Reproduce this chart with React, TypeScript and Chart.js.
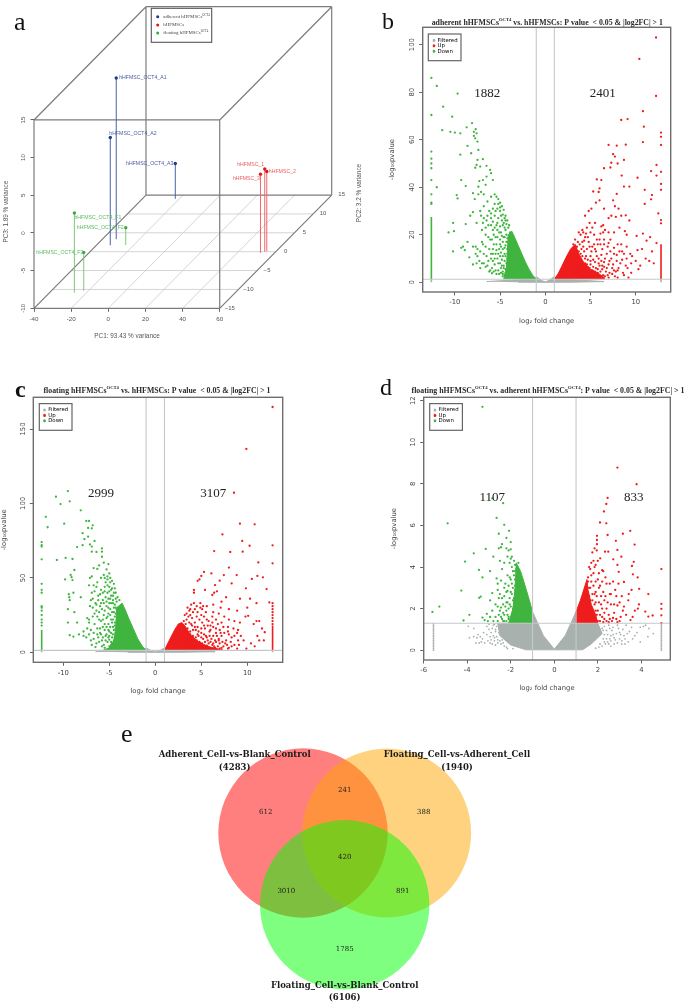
import React, { useEffect, useRef } from 'react';
import { Chart, registerables } from 'chart.js';

Chart.register(...registerables);

type P = number[];
type Run = { t: string; sup?: boolean };

/* ---------- panel a values ---------- */
const pcaNames = ['adherent hHFMSCs', 'hHFMSCs', 'floating hHFMSCs'];
const adherentPC = [[-32.5, 3.3, 11.4], [-32.5, 1.7, 4.3], [-22.2, 14, -5.3]];
const controlPC = [[54.2, -0.05, 1], [55, 0.1, 0.6], [52.4, -0.3, 0.44]];
const floatingPC = [[-26.6, -10.85, 0.57], [-24.3, 1.77, -7.7], [-22.6, -10.33, -4.93]];
const pc1Ticks = [-40, -20, 0, 20, 40, 60];
const pc2Ticks = [-15, -10, -5, 0, 5, 10, 15];
const pc3Ticks = [-10, -5, 0, 5, 10, 15];

/* ---------- panel b values ---------- */
const bDown: P[] = [[-12.6,86],[-12,82.6],[-9.7,79.4],[-11.3,73.9],[-12.6,70.4],[-10.3,69.7],[-11.4,64],[-10.5,63.3],[-10,63],[-9.4,62.7],[-8.7,65.2],[-8.1,67],[-7.7,64.4],[-7.9,63.3],[-7.6,62.7],[-7.9,61.6],[-7.75,60.6],[-7.5,59.2],[-8.6,57.4],[-9.4,53.7],[-8.2,54.3],[-7.4,55.7],[-6.9,51.8],[-7.5,51.5],[-7.6,49.4],[-7.75,48.2],[-7.2,48.7],[-6.5,49],[-6.1,47.3],[-12,40],[-9.3,43],[-8.8,40.5],[-7.3,42.6],[-6.5,44.5],[-6,45.9],[-5.8,43],[-7.4,40.2],[-9.8,36.7],[-9.7,35.3],[-12.6,55],[-12.6,52],[-12.6,50],[-12.6,48],[-12.6,43],[-12.6,37],[-12.6,33.5],[-12.6,33],[-8,37.5],[-7.8,35],[-6.8,37],[-6.4,34],[-6,36],[-5.6,37],[-5.4,36],[-5.2,35],[-5,33.5],[-4.8,32],[-4.6,30.5],[-4.4,28],[-4.2,26],[-4,24],[-5,30],[-5.3,31],[-5.6,33],[-6.2,30],[-6.8,32],[-7.2,30],[-8,29.5],[-8.3,28],[-7.6,25],[-8.8,24.5],[-10.2,25],[-10.7,21],[-10.1,21.5],[-9.1,15],[-9.3,14.5],[-10.2,13],[-8.6,17],[-8.4,10.5],[-8.9,13.5],[-7.7,15],[-7.5,14],[-7,17],[-6.6,20],[-6.3,24],[-6,27],[-5.6,28],[-5.2,27],[-4.8,26],[-5.4,24],[-5.8,22],[-6.1,18],[-5.7,16],[-5.3,19],[-4.9,21],[-4.5,23],[-4.3,20],[-4.7,17],[-5.1,14],[-5.5,12],[-6,10],[-6.5,11],[-7,8],[-6.4,7],[-5.9,6],[-5.5,5],[-5.1,3.5],[-4.7,2.5],[-4.4,4],[-4.6,7],[-4.2,10],[-4,14],[-3.8,17],[-4.8,9.5],[-5.2,8],[-5.8,9],[-6.2,14],[-6.8,12],[-7.5,11],[-7.2,6],[-4.2,6.5],[-3.9,5],[-4.5,12],[-4.1,17],[-3.9,21],[-3.8,10],[-4.4,15.5],[-5,18],[-6.4,28],[-6.8,27],[-7,22],[-5,11],[-5.4,16],[-4.7,4.5],[-5.6,7.5],[-4.1,23],[-4.3,24.5],[-4.6,25],[-4.9,28],[-4.5,19],[-4.2,14],[-4.9,6],[-5.3,10],[-6.6,15],[-6.2,4.5],[-5.8,12],[-5.2,5]];
const bDownMore: P[] = [[-3.6,2],[-3.9,3],[-4.1,2.5],[-4.3,2],[-4.5,3],[-4.7,3.5],[-4.9,4],[-4.2,4.5],[-4.4,5.5],[-4.6,6],[-4.8,7],[-5,8],[-4.3,8],[-4.5,9],[-4.7,11],[-4.9,12.5],[-4.4,11],[-4.2,12],[-4.1,9],[-4,8],[-3.9,12],[-3.8,14],[-4.1,15],[-4.3,17],[-4.5,14.5],[-4.7,14],[-4.9,15],[-5,16],[-4.6,19],[-4.4,22],[-4.2,18.5],[-4,19],[-3.9,16],[-4.8,19.5],[-5.1,21],[-5.3,22],[-5.5,19],[-5.7,20],[-5.9,18],[-5.2,12],[-5.4,13.5],[-5.6,10],[-5.8,14],[-6,12],[-6.3,9],[-6.6,6.5],[-6.1,5],[-5.4,3.5],[-5.7,4.5],[-5.9,3.8],[-6.8,8],[-7.3,9],[-7.6,8],[-8,7.5],[-7.7,12],[-8,15],[-7.2,13],[-6.9,16],[-6.6,23],[-6.9,25],[-7.1,28],[-6.3,19],[-6.5,26],[-6,24],[-5.8,25.5],[-5.6,23],[-5.3,25],[-5,23.5],[-4.7,24],[-4.4,26],[-5.5,30],[-5.8,31],[-6,29],[-5.2,33],[-5,31.5],[-4.7,28.5],[-4.5,27],[-7.4,37],[-6.6,41],[-6.9,43],[-7.1,38]];
const bUp: P[] = [[12.25,103],[10.4,94],[12.25,78.4],[10.8,72],[8.4,68.3],[9.1,68.7],[10.9,65.5],[12.8,63],[12.8,61.2],[12.8,57.8],[10.8,59],[7,57.8],[7.9,57.5],[8.9,57.9],[7.5,53.9],[7.7,52.9],[8.7,51.5],[8,50],[7.3,50.3],[12.3,49.4],[6.5,48],[7.2,48.3],[11.7,46.8],[12.8,46.5],[12.3,44.9],[8.45,44.9],[10.2,44],[5.7,43.3],[6.2,43],[12.8,41.4],[8.7,40.3],[9.3,40.3],[11,38.9],[12.8,38.9],[6,39.5],[5.9,38],[5.3,38.2],[11.8,36.7],[7.9,37.2],[11.7,34.9],[11,33],[12.5,29],[12.8,26.2],[12.8,24.8],[7.5,34.5],[6,34.5],[5.6,33.5],[5.1,31],[4.8,30],[4.4,28],[6.5,31],[7.7,32],[8.1,31],[8.4,28],[8.9,28.2],[7.8,27.5],[9.3,26],[7.3,28],[7,27],[6.4,24],[6.2,23.5],[5.5,25],[4.9,25],[5.2,23],[4.6,23],[4.1,22],[3.7,21],[3.9,20],[4.4,19],[5.4,20],[6.1,20.5],[7,21],[7.6,21],[8.2,23],[8.8,21.5],[9,20],[10.1,19.5],[10.8,20.5],[11.2,17.5],[11.6,19],[12.3,16.5],[10.7,14],[11.1,10],[11.5,9],[11.8,13],[12,8],[10.2,13.5],[9.6,11],[10,9],[10.5,7],[9,15],[8.4,16],[7.6,14.5],[7.2,18],[6.5,18],[6,18],[5.4,16],[4.8,17],[4.2,15],[3.6,17],[3.1,16],[3.4,14],[3.9,12],[4.5,11],[5.1,13],[5.7,11],[6.3,14],[6.8,12],[7.3,10],[7.9,11.5],[8.5,9.5],[9.1,6],[9.5,4],[8.7,3],[8.1,6],[7.6,5],[7,7.5],[6.5,8.5],[6,7],[5.5,8.5],[5,9],[4.6,7.5],[5.2,5],[5.8,4],[6.3,5.5],[6.9,3],[7.4,3.5],[8,2],[6,2.5],[7,2],[5.5,3],[4.9,6],[4,9],[3.6,10],[4.3,6],[8.5,13],[9.5,8],[8,16],[3.3,12],[10.3,5.5],[9.2,2]];
const bUpMore: P[] = [[3.4,4],[3.7,3],[4,2.5],[4.3,4.5],[4.6,3],[4.9,4],[5.2,3],[5.5,4.5],[5.8,5.5],[6.1,4.5],[6.4,3],[6.7,4.5],[7.1,4],[7.4,6],[7.8,4.5],[4,6.5],[4.4,8],[4.7,6.5],[5,7.5],[5.3,6.5],[5.6,6],[5.9,8],[6.2,9],[6.5,6.5],[6.8,6],[7.1,9],[3.5,8],[3.8,7.5],[4.1,11],[4.4,10],[4.7,9.5],[5,11],[5.3,9.5],[5.6,13],[5.9,10],[6.2,11.5],[6.6,10],[6.9,15],[7.2,13],[7.6,12],[3.4,11],[3.7,13],[4,14],[4.3,13],[4.6,14],[4.9,15],[5.2,15],[5.5,14],[5.8,16],[6.1,16],[6.5,16],[7,16.5],[3.5,15],[3.8,16],[4.1,17],[4.3,17.5],[4.7,19],[5,21],[5.7,18],[6.4,21],[6.6,22],[4.5,20.5],[4.2,21],[3.3,18],[8.2,13],[8.7,12],[9,10],[8.3,8],[8.9,7],[9.4,12],[7.9,9],[7.5,7.5],[8,5],[8.6,4],[7.7,2.5],[6.6,2.5],[5.8,2.5],[5,2.3],[6.3,7]];
const bDownPolygon: P[] = [[-1,1.3],[-1.4,3],[-1.8,5.5],[-2.2,8.5],[-2.6,12],[-3,15.5],[-3.4,19],[-3.7,21.5],[-4.1,20],[-4.2,12],[-4.3,6],[-4.6,1.3]];
const bUpPolygon: P[] = [[1,1.3],[1.4,3.5],[1.8,6.5],[2.3,10.5],[2.8,14],[3.3,16],[3.7,12],[4.3,8],[5,5.5],[5.8,4],[6.5,2],[6.5,1.3]];
const bGrayPolygon: P[] = [[-6.5,0.3],[-3,1.1],[-1.3,1.3],[-1,2.4],[-0.6,1.3],[-0.3,0.6],[0,0.2],[0.3,0.6],[0.6,1.3],[1,2.4],[1.3,1.3],[3,1.1],[6.5,0.3],[3,0.05],[0,0],[-3,0.05]];
const bDownColumn: P[] = [[-12.6,1.3],[-12.6,27.5]];
const bUpColumn: P[] = [[12.8,1.3],[12.8,16]];
const bGrayColumns: P[] = [[-12.6,0],[-12.6,1.3],[12.8,0],[12.8,1.3]];

/* ---------- panel c values ---------- */
const cDown: P[] = [[-9.5,108.3],[-10.8,104.5],[-10.3,99.6],[-9.3,101.4],[-8.1,95.4],[-11.9,91],[-11.7,84],[-9.9,86.4],[-7.5,88.2],[-7.2,88.2],[-6.8,85.3],[-6.9,83.3],[-7.3,83.5],[-7.9,80],[-7.3,77.7],[-7.7,76],[-6.6,74.8],[-7.1,72.5],[-6.9,71],[-8.5,70.7],[-7.9,72],[-5.8,69.8],[-5.8,67.6],[-6.4,67.4],[-6.9,67.6],[-5.8,64.2],[-9.75,63.4],[-9,62.7],[-10.7,62],[-5.6,60.2],[-5.1,59.3],[-6.1,58.4],[-6.7,56.6],[-8.8,55.3],[-5.3,55.7],[-12.35,74],[-12.35,72],[-12.35,71],[-12.35,62.5],[-12.35,46],[-12.35,42],[-12.35,40],[-12.35,31],[-12.35,30],[-12.35,28],[-12.35,25],[-12.35,22],[-12.35,20],[-12.35,18],[-9.2,52],[-9.1,50.5],[-9.8,49],[-9,48.5],[-8.9,40],[-9.4,39],[-9.35,37],[-9.3,35],[-8.1,37],[-8.8,27],[-9.5,29],[-9.5,20],[-8.5,20],[-9.3,11.5],[-8.9,10.5],[-8.3,12],[-7.8,14],[-7.4,23],[-7.2,22],[-6.8,30],[-7,35],[-6.9,40],[-7.1,50],[-6.9,51],[-6.7,45],[-6.3,47],[-5.9,50],[-5.6,52],[-5.2,49],[-5,53],[-4.9,47],[-4.7,48],[-4.5,46],[-4.4,43],[-4.3,40],[-4.1,37],[-3.9,35],[-5.5,44],[-5.9,42],[-6.2,38],[-6.5,33],[-6.4,28],[-6.1,27],[-5.7,35],[-5.2,40],[-4.9,36],[-4.6,33],[-4.3,30],[-4.4,24],[-4.9,29],[-5.3,31],[-5.6,25],[-5.9,21],[-6.3,24],[-6.6,19],[-7,15],[-7.2,12],[-6.7,9],[-6.3,12],[-6.1,7],[-5.7,10],[-5.5,15],[-5.1,19],[-4.8,22],[-4.6,17],[-4.3,13],[-4.7,10],[-5.2,7],[-5.6,5],[-5,4],[-4.7,6],[-4.4,20],[-5,14],[-5.4,11],[-6,16],[-4.5,27],[-4.2,34],[-4.8,42],[-5.4,47],[-5.1,36],[-6.4,6],[-4.9,2.5],[-5.8,4],[-6.7,13],[-6,31],[-5.4,37],[-4.6,38],[-4.1,26],[-4.2,21],[-4.5,8],[-5.2,24],[-5.8,29],[-7.4,16],[-7.8,11]];
const cDownMore: P[] = [[-4.2,3],[-4.4,2.5],[-4.6,4],[-4.3,5.5],[-4.5,6],[-4.8,7],[-5,8.5],[-4.2,11],[-4.4,10],[-4.6,12],[-4.8,13],[-5,11],[-4.3,16],[-4.5,15],[-4.7,20],[-4.9,17],[-5.1,15],[-5.3,17],[-5.5,19],[-5.7,17],[-4.2,19],[-4.4,18],[-4.6,22],[-4.1,23],[-4.3,26],[-4.5,30],[-4.7,27],[-4.9,25],[-5.1,26],[-5.3,23],[-5.5,28],[-5.7,22],[-4.2,29],[-4.4,32],[-4.6,35],[-4.3,36],[-4.5,40],[-4.7,43],[-5,44],[-5.2,45],[-5.5,41],[-5.7,40],[-6,39],[-5.9,33],[-5.6,33],[-5.3,34],[-5,33],[-4.8,33],[-5.1,30],[-6.2,35],[-6.4,32],[-6.6,26],[-6.1,22],[-5.9,12],[-6.3,16],[-6.8,24],[-7.2,20],[-7.5,10],[-6.9,5],[-5.8,8],[-5.5,3],[-6.5,3.5],[-6.2,10],[-5.3,12],[-5.1,10],[-5,2],[-4.8,5],[-5.4,8],[-6,13],[-7,8],[-4.8,38],[-5,41],[-4.9,50],[-5.2,51],[-5.5,50],[-6.4,44],[-6.6,41],[-6.8,36],[-7.1,31],[-6.3,56],[-7.2,45]];
const cUp: P[] = [[12.75,164.8],[9.9,136.6],[8.55,107.2],[9.2,86.4],[10.8,86],[7.3,79.2],[9.45,74.8],[10.25,71.6],[12.75,71.9],[6.4,68],[8.15,67.4],[9.5,67.6],[11.2,60.4],[12.75,59.8],[8,56.9],[5.3,54],[7.45,51.9],[8.85,51.9],[6.1,53],[5,51.3],[11.1,51.3],[11.7,50.4],[10.5,49.3],[4.6,48],[4.8,49],[7,48.1],[8.3,46.3],[6.5,45.2],[9.85,43],[12.1,42.5],[5.4,41.9],[4.2,41.9],[4.2,40],[6.4,40],[6.2,38.5],[6.7,41],[7.7,37],[7.2,34],[9.2,36],[10.3,36],[11,33],[12.4,33.5],[12.75,33],[12.75,31],[12.75,29],[12.75,27],[12.75,25],[12.75,23],[12.75,21],[12.75,19],[10,30],[8.9,28],[8,29],[7.1,30],[6.3,32],[4.9,33],[4.2,33],[3.9,32],[3.5,30],[3.7,28],[4.1,27],[4.9,30],[5,25],[5.5,27],[6.3,27],[6.9,26],[7.5,24],[8,22],[8.6,21],[9.2,20],[9.8,24],[10.1,24.5],[11,21],[11.3,21],[10.7,19],[11.6,16],[11.9,13.5],[11.1,11],[11.3,8],[11.8,8],[10.4,6],[10.8,4],[9.9,2.5],[9.6,8],[9.3,11],[8.9,13],[8.3,10],[7.9,14],[7.4,17],[6.8,19],[6.2,20],[5.6,22],[5.1,20],[4.5,24],[3.6,24],[3.2,25],[3.1,21],[3.9,19],[4.6,17],[5.4,16],[6,15],[6.6,13],[7.2,11],[7.7,8],[8.2,7],[8.6,5],[8,3],[7.4,4],[7,6],[6.5,8],[6.1,9],[5.5,11],[5,13],[4.6,12],[5.2,9],[5.8,6],[6.4,4],[7,2.5],[9,15],[9.1,5],[6,18],[6.9,9],[4.4,15],[5.7,18],[4,23],[3.4,22],[7.9,17],[8.5,16]];
const cUpMore: P[] = [[3.2,3],[3.5,3.5],[3.8,2.5],[4.1,3],[4.4,4.5],[4.7,3],[5,4],[5.3,3],[5.6,4.5],[5.9,3],[6.2,5],[6.5,3],[6.8,4],[7.2,3],[7.6,6],[3.3,7],[3.6,8],[3.9,9],[4.2,7],[4.5,8],[4.8,7],[5.1,6],[5.4,7],[5.7,8],[6,7],[6.3,6],[6.6,7],[6.9,8],[7.3,7],[7.8,5],[3.5,11],[3.8,12],[4.1,11],[4.4,10],[4.7,11],[5,10],[5.3,12],[5.6,10],[5.9,11],[6.3,11],[6.7,11],[7.1,13],[7.5,13],[8,12],[3.2,15],[3.5,16],[3.8,14],[4.1,15],[4.3,17],[4.7,14],[5,16],[5.3,18],[5.9,14],[6.3,17],[6.6,16],[7,15],[3.3,19],[3.7,20],[4,18],[4.3,20],[4.8,22],[5.3,24],[5.8,21],[6.2,24],[6.6,22],[7.2,20],[3.4,26],[3.8,25],[4.3,29],[4.6,27],[5.1,29],[5.6,31],[5.2,31],[4.5,31],[3.8,29],[8.6,11],[9,8],[8.3,4],[7.9,2.5],[7.2,1.8],[6.5,1.8],[5.7,1.8],[8.9,2.5]];
const cDownPolygon: P[] = [[-1,1.3],[-1.4,4],[-1.9,9],[-2.4,16],[-2.9,23],[-3.3,29],[-3.6,33],[-4.2,30],[-4.3,16],[-4.5,8],[-5,3],[-5.7,1.3]];
const cUpPolygon: P[] = [[1,1.3],[1.2,4],[1.6,9],[2.1,15],[2.5,19],[2.9,20],[3.3,17],[3.8,12],[4.5,8],[5.2,5.5],[6,3.5],[7,2],[7,1.3]];
const cGrayPolygon: P[] = [[-6.5,0.4],[-3,1.2],[-1.3,1.3],[-1,3],[-0.6,1.5],[-0.3,0.7],[0,0.2],[0.3,0.7],[0.6,1.5],[1,3],[1.3,1.3],[3,1.2],[6.5,0.4],[3,0.05],[0,0],[-3,0.05]];
const cDownColumn: P[] = [[-12.35,1.3],[-12.35,15]];
const cUpColumn: P[] = [[12.75,1.3],[12.75,18]];
const cGrayColumns: P[] = [[-12.35,0],[-12.35,1.3],[12.75,0],[12.75,1.3]];

/* ---------- panel d values ---------- */
const dDown: P[] = [[-3.3,11.7],[-2.35,7.07],[-2.85,7.3],[-2.65,6.36],[-4.9,6.1],[-2.3,6.03],[-2.08,5.74],[-2.55,5.6],[-2.2,5.4],[-2,5.2],[-3.15,4.87],[-3.7,4.66],[-2.8,4.5],[-4.1,4.26],[-3.46,3.86],[-2.95,3.8],[-3.3,3.5],[-4.27,2.87],[-3.38,2.58],[-3.45,2.52],[-5.28,2.1],[-5.6,1.84],[-3.9,1.7],[-4.17,1.43],[-3.3,1.57],[-3.2,1.45],[-2.95,2.4],[-2.6,2.1],[-2.45,3.35],[-2.65,3.45],[-2.6,3.2],[-2.4,3.9],[-2.5,4.3],[-2.45,4.95],[-2.4,5.1],[-2.55,4.9],[-2.3,4.2],[-2.2,4.9],[-2.1,4.8],[-2,4.85],[-1.95,4.5],[-1.85,4.3],[-1.8,4.1],[-1.75,3.9],[-1.9,3.8],[-2.05,3.5],[-2.25,3.2],[-2.15,2.85],[-1.95,3.2],[-1.8,3.4],[-1.7,3.7],[-1.65,3.2],[-2,2.8],[-2.3,2.6],[-2.5,2.7],[-2.7,2.2],[-2.85,2.75],[-2.85,1.9],[-2.55,1.7],[-2.4,1.5],[-2.2,1.9],[-2,2.1],[-1.9,2.4],[-1.8,2.9],[-2.1,1.6],[-2.3,1.4],[-2.6,1.4],[-2.8,1.4],[-3.05,1.4],[-1.95,1.45],[-2.15,2.3],[-2.35,2.2],[-1.9,1.7],[-2.05,2.5],[-2.45,2.05],[-2.2,1.4]];
const dDownMore: P[] = [[-1.7,1.5],[-1.8,1.7],[-1.9,2],[-2,1.5],[-2.1,2],[-2.2,2.3],[-2.3,1.7],[-1.75,2.2],[-1.85,2.5],[-1.95,2.7],[-2.05,2.2],[-2.15,1.7],[-2.25,2.1],[-1.7,2.7],[-1.8,3.1],[-1.9,3],[-2,3.4],[-2.1,3.1],[-1.75,3.3],[-1.85,3.6],[-1.95,4],[-2.05,4.2],[-1.7,4],[-1.65,4.2],[-2.15,3.6],[-2.2,2.8],[-2.35,1.8],[-2.4,2.5],[-2.45,1.6],[-2.5,1.9],[-2.55,2.5],[-2.3,3],[-2.6,2.9],[-1.8,3.8],[-2,4.4],[-2.15,4.5],[-1.6,3.4],[-2.1,1.5],[-1.95,1.35],[-1.8,1.4],[-1.6,1.5],[-1.7,1.35],[-2.35,1.4],[-2.7,1.6],[-2.95,1.6],[-3.1,1.75],[-1.85,2.1]];
const dUp: P[] = [[2.9,8.78],[3.78,7.98],[2.45,7.32],[2.39,7.03],[2.28,6.67],[2.1,6.14],[2.39,6.1],[3.49,5.74],[3.15,5.6],[2.45,5.54],[1.96,5.5],[1.96,5.3],[1.96,5.1],[2.83,5.26],[3.69,5.08],[2.9,4.82],[2.48,4.74],[2.33,4.74],[3.08,4.5],[2.11,4.42],[2.71,4.37],[3.65,4.25],[3.57,4.05],[2.9,4.1],[4.92,3.9],[2.2,3.85],[2.96,3.77],[3.61,3.65],[3.83,3.5],[3.2,3.28],[4.32,2.7],[3.9,2.95],[3.55,2.9],[3.42,2.7],[4.92,2.23],[4.92,1.99],[4.92,1.68],[4.92,1.3],[4.52,1.67],[4.18,1.86],[4.32,1.62],[3.89,2.2],[3.84,2],[3.5,1.45],[3.6,1.6],[3.7,1.9],[3.4,2.4],[3.2,2.1],[3.15,1.9],[2.9,2.15],[2.75,1.8],[2.85,1.5],[2.65,1.4],[2.5,1.7],[2.4,2],[2.3,2.4],[2.15,2.6],[2.05,3],[1.9,3.3],[1.85,4],[1.8,4.3],[1.75,4.7],[1.7,3.6],[1.65,3],[1.6,2.6],[1.75,2.4],[1.9,2.3],[2,1.9],[2.2,1.6],[2.4,1.4],[2.6,2.7],[2.7,3.3],[2.55,3.2],[2.4,3.2],[2.2,3.3],[2.05,3.7],[2.85,2.6],[2.95,3.2],[1.85,1.5],[1.7,1.9],[2.1,1.4],[1.95,1.7],[3,1.4],[2.3,1.8],[1.65,3.9],[1.55,3.3],[1.85,2.7],[2.6,2.2],[3.1,2.6]];
const dUpMore: P[] = [[1.6,1.5],[1.7,1.35],[1.8,1.6],[1.9,1.9],[2,1.4],[2.1,1.7],[2.2,2],[2.3,1.5],[1.55,2.2],[1.65,2.4],[1.75,2.7],[1.85,2.2],[1.95,2.6],[2.05,2.3],[2.15,2.2],[2.25,2.8],[2.35,2.6],[2.45,2.3],[2.55,2.7],[1.6,3],[1.7,3.3],[1.8,3.1],[1.9,2.8],[2,3.4],[2.1,3.1],[2.25,3.8],[2.35,3.5],[1.5,2.6],[1.55,3.5],[1.6,4],[1.7,4.2],[1.8,3.7],[1.9,4.1],[2,4.3],[1.95,4.8],[1.85,4.9],[2.75,2.2],[2.8,2.9],[3,2.3],[3.3,1.7],[2.7,1.55],[2.55,1.5],[1.95,1.35],[2.25,1.35],[2.5,1.35],[2.9,1.35],[3.05,1.6]];
const dDownPolygon: P[] = [[-1,1.3],[-1,1.85],[-1.2,2.6],[-1.4,3.3],[-1.55,3.8],[-1.75,4.2],[-1.8,3],[-1.9,2],[-2.1,1.3]];
const dUpPolygon: P[] = [[1,1.3],[1,1.85],[1.2,2.4],[1.35,2.9],[1.5,3.4],[1.55,2.9],[1.7,2.2],[1.9,1.7],[2,1.3]];
const dGrayPolygon: P[] = [[-1,1.85],[-0.5,0.7],[0,0.05],[0.5,0.7],[1,1.85],[1.05,1.3],[2,1.3],[2.2,0.8],[1.7,0.3],[1.3,0.02],[-1.3,0.02],[-2,0.25],[-2.5,0.7],[-2.6,1.3],[-1.05,1.3]];
const dGray: P[] = [[-3.95,1.15],[-3.7,1.05],[-3.9,0.6],[-3.7,0.65],[-3.55,0.6],[-3.5,0.75],[-3.4,0.65],[-3.3,0.55],[-3.25,0.85],[-3.1,1.15],[-3,1],[-2.9,0.85],[-2.8,1.2],[-2.7,1],[-3.35,0.4],[-3.2,0.35],[-3.05,0.45],[-2.9,0.5],[-2.75,0.45],[-2.6,0.35],[-2.8,0.7],[-3.6,0.35],[-3.45,0.35],[-2.45,0.3],[-2.3,0.2],[-2.65,0.65],[-2.7,0.25],[2.3,1.15],[2.4,0.95],[2.45,0.75],[2.5,1.2],[2.6,0.7],[2.65,0.95],[2.7,1.1],[2.8,0.5],[2.85,0.8],[2.9,1.2],[3,0.55],[3,0.85],[3.1,0.45],[3.15,1],[3.2,0.7],[3.3,1.2],[3.4,0.4],[3.45,0.9],[3.55,1.1],[3.6,0.55],[3.7,0.7],[3.8,0.85],[3.95,1.1],[4.1,1.15],[4.2,1.2],[4.35,1.05],[4.3,0.65],[4.55,0.8],[3.95,0.4],[2.3,0.4],[2.5,0.3],[2.2,0.2],[2.6,0.2],[2.75,0.3],[3.25,0.3],[-2.45,1.1],[2.25,0.55],[-2.55,0.85],[2.55,0.55]];
const dGrayMore: P[] = [[-2.7,0.9],[-2.75,0.6],[-2.6,0.5],[-2.55,1.25],[-2.65,1.15],[-2.5,0.45],[-2.4,0.5],[-2.35,0.35],[-2.2,0.15],[-2.95,0.65],[-3.1,0.75],[-3,1.25],[-2.85,1.05],[-2.75,1.25],[-2.95,0.35],[-2.85,0.3],[-2.15,0.08],[-1.9,0.08],[2.25,0.95],[2.3,0.75],[2.2,1.05],[2.35,0.3],[2.4,0.55],[2.45,0.4],[2.55,1.05],[2.6,0.45],[2.7,0.75],[2.75,0.6],[2.9,0.35],[2.95,1.05],[3.05,0.75],[3.1,0.3],[3.25,0.55],[3.35,0.8],[2.05,0.15],[1.9,0.1],[2.1,0.3]];
const dGrayLeftColumn = [0, 0.08, 0.16, 0.24, 0.32, 0.4, 0.48, 0.56, 0.64, 0.72, 0.8, 0.88, 0.96, 1.04, 1.12, 1.2, 1.28];
const dGrayRightColumn = [0, 0.08, 0.16, 0.24, 0.32, 0.4, 0.48, 0.56, 0.64, 0.72, 0.8, 0.88, 0.96, 1.04, 1.12, 1.2, 1.28];

/* ---------- panel e values ---------- */
const vennSets = ['Adherent_Cell-vs-Blank_Control', 'Floating_Cell-vs-Adherent_Cell', 'Floating_Cell-vs-Blank_Control'];
const vennTotals = [4283, 1940, 6106];
const vennCounts = [612, 241, 388, 420, 3010, 891, 1785];

const RED = '#ee1c1c', GREEN = '#3fb53f', GRAY = '#a9b1af';
const SANS = '"DejaVu Sans"', SERIF = '"Liberation Serif"', HELV = '"Liberation Sans"';

function richWidth(ctx: any, runs: Run[], font: string, supFont: string) {
  let w = 0;
  for (const r of runs) { ctx.font = r.sup ? supFont : font; w += ctx.measureText(r.t).width; }
  return w;
}
function drawRich(ctx: any, runs: Run[], x: number, y: number, font: string, supFont: string, color: string, center = true, supRise = 2.6) {
  ctx.save();
  ctx.fillStyle = color; ctx.textBaseline = 'middle'; ctx.textAlign = 'left';
  let cx = center ? x - richWidth(ctx, runs, font, supFont) / 2 : x;
  for (const r of runs) {
    ctx.font = r.sup ? supFont : font;
    ctx.fillText(r.t, cx, r.sup ? y - supRise : y);
    cx += ctx.measureText(r.t).width;
  }
  ctx.restore();
}
function drawText(ctx: any, t: string, x: number, y: number, font: string, color: string, align = 'center', rot = 0) {
  ctx.save();
  ctx.translate(x, y); ctx.rotate(rot);
  ctx.font = font; ctx.fillStyle = color; ctx.textAlign = align; ctx.textBaseline = 'middle';
  ctx.fillText(t, 0, 0);
  ctx.restore();
}
const toXY = (a: P[]) => a.map(([x, y]) => ({ x, y }));

function volcano(canvas: HTMLCanvasElement, c: any) {
  const [xMin, xMax] = c.xRange, [yMin, yMax] = c.yRange;
  const poly = (d: P[], col: string) => ({ data: toXY(d), showLine: true, fill: 'shape', backgroundColor: col, borderColor: col, borderWidth: 1, pointRadius: 0 });
  const stroke = (d: any[], col: string, w = 1.1) => ({ data: d, showLine: true, borderColor: col, borderWidth: w, pointRadius: 0, spanGaps: false });
  const dots = (d: P[], col: string, r = 1.15) => ({ data: toXY(d), backgroundColor: col, borderWidth: 0, pointRadius: r });
  const datasets: any[] = [
    stroke([{ x: c.fc[0], y: yMin }, { x: c.fc[0], y: yMax }], '#c4c9c8'),
    stroke([{ x: c.fc[1], y: yMin }, { x: c.fc[1], y: yMax }], '#c4c9c8'),
    stroke([{ x: xMin, y: c.pLine }, { x: xMax, y: c.pLine }], '#c4c9c8'),
    dots(c.up, RED), dots(c.down, GREEN),
    poly(c.upPoly, RED), poly(c.downPoly, GREEN),
  ];
  if (c.upCol) datasets.push(stroke(toXY(c.upCol), RED, 1.6), stroke(toXY(c.downCol), GREEN, 1.6));
  if (c.gray) datasets.push(dots(c.gray, GRAY, 0.9));
  if (c.grayCol) datasets.push(stroke(toXY(c.grayCol.slice(0, 2)), GRAY, 1.6), stroke(toXY(c.grayCol.slice(2)), GRAY, 1.6));
  datasets.push(poly(c.grayPoly, GRAY));

  const off = c.canvas;
  const plot = c.plot;
  const labelFont = { family: SANS, size: 6.8 };
  const overlay = {
    id: 'overlay',
    afterLayout(ch: any) {
      const l = ch.legend, a = ch.chartArea;
      l.left = a.left + c.legendAt[0]; l.right = l.left + 30;
      l.top = a.top + c.legendAt[1]; l.bottom = l.top + 20;
    },
    afterDatasetsDraw(ch: any) {
      const { ctx, chartArea: a } = ch;
      ctx.save();
      ctx.strokeStyle = '#6e6e6e'; ctx.lineWidth = 1.4;
      ctx.strokeRect(a.left, a.top, a.right - a.left, a.bottom - a.top);
      ctx.strokeStyle = '#666'; ctx.lineWidth = 1.2;
      ctx.strokeRect(a.left + c.legendBox[0], a.top + c.legendBox[1], c.legendBox[2], c.legendBox[3]);
      ctx.restore();
      drawRich(ctx, c.title, c.titleAt[0] - off.l, c.titleAt[1] - off.t, `bold ${c.titleSize}px ${SERIF}`, `bold ${c.titleSize * 0.6}px ${SERIF}`, '#2a2a2a');
      drawText(ctx, c.letter, c.letterAt[0] - off.l, c.letterAt[1] - off.t, c.letterFont, '#111', 'left');
      c.counts.forEach((n: number, i: number) => drawText(ctx, String(n), c.countAt[i][0] - off.l, c.countAt[i][1] - off.t, `13px ${SERIF}`, '#222'));
    },
  };
  return new Chart(canvas, {
    type: 'scatter',
    data: { datasets },
    plugins: [overlay],
    options: {
      animation: false, responsive: false, devicePixelRatio: 1,
      layout: { autoPadding: false, padding: { left: c.yTitleX - 4.2 - off.l, top: plot.t - off.t, right: off.l + off.w - plot.r, bottom: 0 } },
      plugins: {
        tooltip: { enabled: false },
        legend: {
          position: 'chartArea', align: 'start',
          labels: {
            usePointStyle: true, boxWidth: 2.2, boxHeight: 2.2, padding: 0,
            font: { family: SANS, size: 5.4 }, color: '#444',
            generateLabels: () => [['Filtered', GRAY], ['Up', RED], ['Down', GREEN]].map(([text, col]) => ({ text, fillStyle: col, strokeStyle: col, lineWidth: 0, pointStyle: 'circle' })),
          },
        },
      },
      scales: {
        x: {
          type: 'linear', min: xMin, max: xMax,
          afterBuildTicks: (s: any) => { s.ticks = c.xTicks.map((value: number) => ({ value })); },
          afterFit: (s: any) => { s.height = off.t + off.h - plot.b; },
          grid: { drawOnChartArea: false, drawTicks: true, tickLength: 3.5, color: '#666', lineWidth: 1 },
          border: { display: false },
          ticks: { autoSkip: false, maxRotation: 0, font: labelFont, color: '#444', padding: 3 },
          title: { display: true, text: 'log\u2082 fold change', font: labelFont, color: '#444', padding: 0 },
        },
        y: {
          type: 'linear', min: yMin, max: yMax,
          afterBuildTicks: (s: any) => { s.ticks = c.yTicks.map((value: number) => ({ value })); },
          afterFit: (s: any) => { s.width = plot.l - (c.yTitleX - 4.2); },
          grid: { drawOnChartArea: false, drawTicks: true, tickLength: 3.5, color: '#666', lineWidth: 1 },
          border: { display: false },
          ticks: { autoSkip: false, minRotation: 90, maxRotation: 90, crossAlign: 'center', font: labelFont, color: '#444', padding: c.yTickPad },
          title: { display: true, text: '-log\u2081\u2080pvalue', font: labelFont, color: '#444', padding: 0 },
        },
      },
    },
  } as any);
}

function pca(canvas: HTMLCanvasElement) {
  const KX = 2.01, KY = 0.501;
  const project = ([a, b, c]: number[]) => ({ x: a + (b + 15) * KX, y: c + (b + 15) * KY });
  const gap = { x: NaN, y: NaN };
  const [p1a, p1b] = [pc1Ticks[0], pc1Ticks[pc1Ticks.length - 1]];
  const [p2a, p2b] = [pc2Ticks[0], pc2Ticks[pc2Ticks.length - 1]];
  const [p3a, p3b] = [pc3Ticks[0], pc3Ticks[pc3Ticks.length - 1]];
  const seg = (pairs: number[][][]) => pairs.flatMap(([u, v]) => [project(u), project(v), gap]);
  const floor = seg([
    ...pc2Ticks.slice(1, -1).map(b => [[p1a, b, p3a], [p1b, b, p3a]]),
    ...pc1Ticks.slice(1, -1).map(a => [[a, p2a, p3a], [a, p2b, p3a]]),
  ]);
  const frame = seg([
    [[p1a, p2a, p3a], [p1b, p2a, p3a]], [[p1b, p2a, p3a], [p1b, p2a, p3b]], [[p1b, p2a, p3b], [p1a, p2a, p3b]], [[p1a, p2a, p3b], [p1a, p2a, p3a]],
    [[p1a, p2b, p3a], [p1b, p2b, p3a]], [[p1b, p2b, p3a], [p1b, p2b, p3b]], [[p1b, p2b, p3b], [p1a, p2b, p3b]], [[p1a, p2b, p3b], [p1a, p2b, p3a]],
    [[p1a, p2a, p3a], [p1a, p2b, p3a]], [[p1b, p2a, p3a], [p1b, p2b, p3a]], [[p1b, p2a, p3b], [p1b, p2b, p3b]], [[p1a, p2a, p3b], [p1a, p2b, p3b]],
  ]);
  const line = (data: any[], color: string, w: number) => ({ data, showLine: true, borderColor: color, borderWidth: w, pointRadius: 0, spanGaps: false, clip: false });
  const groups: [number[][], string, string][] = [
    [adherentPC, '#4a64a8', '#1f3c88'],
    [controlPC, '#f0666a', '#e0161c'],
    [floatingPC, '#7cc97c', '#35ad35'],
  ];
  const datasets: any[] = [];
  for (const [g, stem, dot] of groups) {
    datasets.push({ data: g.map(project), backgroundColor: dot, borderWidth: 0, pointRadius: 1.7 });
    datasets.push(line(g.flatMap(([a, b, c]) => [project([a, b, p3a]), project([a, b, c]), gap]), stem, 1));
  }
  datasets.push(line(frame, '#7c7c7c', 1.2), line(floor, '#cfcfcf', 0.9));
  const pointLabels: [string, number[], number, number, string, string][] = [
    ['hHFMSC_OCT4_A1', adherentPC[0], 3, 0, 'left', '#4a5ba3'],
    ['hHFMSC_OCT4_A2', adherentPC[1], -1, -3.7, 'left', '#4a5ba3'],
    ['hHFMSC_OCT4_A3', adherentPC[2], -2, 0, 'right', '#4a5ba3'],
    ['hHFMSC_1', controlPC[0], -0.5, -4.3, 'right', '#ee5a5e'],
    ['hHFMSC_2', controlPC[1], 2, 0, 'left', '#ee5a5e'],
    ['hHFMSC_3', controlPC[2], -0.5, 4, 'right', '#ee5a5e'],
    ['hHFMSC_OCT4_F1', floatingPC[0], 0, 4.3, 'left', '#5dbb5d'],
    ['hHFMSC_OCT4_F2', floatingPC[1], -2, 0, 'right', '#5dbb5d'],
    ['hHFMSC_OCT4_F3', floatingPC[2], -0.5, 0, 'right', '#5dbb5d'],
  ];
  const overlay = {
    id: 'pcaOverlay',
    afterDatasetsDraw(ch: any) {
      const { ctx, scales: { x, y } } = ch;
      const px = (v: any) => [x.getPixelForValue(v.x), y.getPixelForValue(v.y)];
      pointLabels.forEach(([t, v, dx, dy, al, col]) => {
        const [a, b] = px(project(v));
        drawText(ctx, t, a + dx, b + dy, `5.2px ${HELV}`, col, al);
      });
      pc2Ticks.forEach(b => {
        const [a, c] = px(project([p1b, b, p3a]));
        drawText(ctx, String(b).replace('-', '\u2212'), a + 10, c - 0.3, `6px ${HELV}`, '#555');
      });
      drawText(ctx, 'PC1: 93.43 % variance', 127, 336.7, `6.4px ${HELV}`, '#555');
      drawText(ctx, 'PC3: 1.89 % variance', 6, 211.7, `6.4px ${HELV}`, '#555', 'center', -Math.PI / 2);
      drawText(ctx, 'PC2: 3.2 % variance', 359, 193, `6.4px ${HELV}`, '#555', 'center', -Math.PI / 2);
      drawText(ctx, 'a', 14, 23, `26px ${SERIF}`, '#111', 'left');
      ctx.save();
      ctx.strokeStyle = '#555'; ctx.lineWidth = 1.1; ctx.fillStyle = '#fff';
      ctx.fillRect(151.3, 8.3, 60.4, 34); ctx.strokeRect(151.3, 8.3, 60.4, 34);
      ctx.restore();
      const legendRows: [number, string, boolean][] = [[16.7, '#1f3c88', true], [25, '#e0161c', false], [33, '#35ad35', true]];
      legendRows.forEach(([ly, col, sup], i) => {
        ctx.save(); ctx.fillStyle = col; ctx.beginPath(); ctx.arc(157.7, ly, 1.5, 0, 7); ctx.fill(); ctx.restore();
        const runs: Run[] = [{ t: pcaNames[i] }];
        if (sup) runs.push({ t: 'OCT4', sup: true });
        drawRich(ctx, runs, 163.3, ly, `4.9px ${SERIF}`, `3px ${SERIF}`, '#444', false, 1.5);
      });
    },
  };
  const tickFont = { family: HELV, size: 6.2 };
  return new Chart(canvas, {
    type: 'scatter',
    data: { datasets },
    plugins: [overlay],
    options: {
      animation: false, responsive: false, devicePixelRatio: 1,
      layout: { autoPadding: false, padding: { left: 0, top: 1, right: 365 - 331.7, bottom: 0 } },
      plugins: { legend: { display: false }, tooltip: { enabled: false } },
      scales: {
        x: {
          type: 'linear', min: -40, max: 60 + 30 * KX,
          afterBuildTicks: (s: any) => { s.ticks = pc1Ticks.map(value => ({ value })); },
          afterFit: (s: any) => { s.height = 345 - 308.3; },
          grid: { drawOnChartArea: false, tickLength: 3.5, color: '#666' }, border: { display: false },
          ticks: { autoSkip: false, maxRotation: 0, font: tickFont, color: '#555', padding: 4 },
        },
        y: {
          type: 'linear', min: -10, max: 15 + 30 * KY,
          afterBuildTicks: (s: any) => { s.ticks = pc3Ticks.map(value => ({ value })); },
          afterFit: (s: any) => { s.width = 34; },
          grid: { drawOnChartArea: false, tickLength: 3.5, color: '#666' }, border: { display: false },
          ticks: { autoSkip: false, minRotation: 90, maxRotation: 90, crossAlign: 'center', font: tickFont, color: '#555', padding: 3 },
        },
      },
    },
  } as any);
}

function venn(canvas: HTMLCanvasElement) {
  const circles: [number, number, number, string][] = [
    [344.7, 904.7, 84.7, 'rgba(0,255,0,0.5)'],
    [386.7, 833, 84.4, 'rgba(255,165,0,0.5)'],
    [303, 833, 84.7, 'rgba(255,0,0,0.5)'],
  ];
  const countAt = [[265.7, 811.7], [344.7, 790], [423.7, 811.7], [344.7, 857.3], [286.3, 891], [402.7, 891], [344.7, 948.7]];
  const setAt = [[234.7, 755], [457, 755], [344.7, 985.7]];
  const overlay = {
    id: 'vennOverlay',
    afterDatasetsDraw(ch: any) {
      const { ctx, scales: { x, y } } = ch;
      vennCounts.forEach((n, i) => drawText(ctx, String(n), x.getPixelForValue(countAt[i][0]), y.getPixelForValue(countAt[i][1]), `7px "DejaVu Serif"`, '#222'));
      vennSets.forEach((s, i) => {
        drawText(ctx, s, x.getPixelForValue(setAt[i][0]), y.getPixelForValue(setAt[i][1]), `bold 8.5px "DejaVu Serif"`, '#1a1a1a');
        drawText(ctx, `(${vennTotals[i]})`, x.getPixelForValue(setAt[i][0]), y.getPixelForValue(setAt[i][1] + 12.3), `bold 8.5px "DejaVu Serif"`, '#1a1a1a');
      });
      drawText(ctx, 'e', 121, 15, `26px ${SERIF}`, '#111', 'left');
    },
  };
  return new Chart(canvas, {
    type: 'bubble',
    data: { datasets: circles.map(([cx, cy, r, col]) => ({ data: [{ x: cx, y: cy, r }], backgroundColor: col, borderWidth: 0, hoverRadius: 0, clip: false })) },
    plugins: [overlay],
    options: {
      animation: false, responsive: false, devicePixelRatio: 1,
      layout: { autoPadding: false, padding: 0 },
      plugins: { legend: { display: false }, tooltip: { enabled: false } },
      scales: {
        x: { type: 'linear', min: 0, max: 685, display: false },
        y: { type: 'linear', min: 720, max: 1003, reverse: true, display: false },
      },
    },
  } as any);
}

const titleB: Run[] = [{ t: 'adherent hHFMSCs' }, { t: 'OCT4', sup: true }, { t: ' vs. hHFMSCs: P value  < 0.05 & |log2FC| > 1' }];
const titleC: Run[] = [{ t: 'floating hHFMSCs' }, { t: 'OCT4', sup: true }, { t: ' vs. hHFMSCs: P value  < 0.05 & |log2FC| > 1' }];
const titleD: Run[] = [{ t: 'floating hHFMSCs' }, { t: 'OCT4', sup: true }, { t: ' vs. adherent hHFMSCs' }, { t: 'OCT4', sup: true }, { t: ': P value  < 0.05 & |log2FC| > 1' }];

const panelB = {
  canvas: { l: 372, t: 0, w: 313, h: 325 }, plot: { l: 422.7, t: 27.3, r: 670.7, b: 292 },
  xRange: [-13.56, 13.87], yRange: [-4.08, 107.3], fc: [-1, 1], pLine: 1.3,
  xTicks: [-10, -5, 0, 5, 10], yTicks: [0, 20, 40, 60, 80, 100], yTitleX: 392.7, yTickPad: 0,
  title: titleB, titleAt: [547.3, 22.7], titleSize: 7.8, letter: 'b', letterAt: [382, 23], letterFont: `24px ${SERIF}`,
  counts: [1882, 2401], countAt: [[487.3, 93.3], [602.7, 93.3]],
  up: [...bUp, ...bUpMore], down: [...bDown, ...bDownMore], upPoly: bUpPolygon, downPoly: bDownPolygon, grayPoly: bGrayPolygon,
  upCol: bUpColumn, downCol: bDownColumn, grayCol: bGrayColumns,
  legendBox: [5.6, 6.7, 32.7, 26.7], legendAt: [10, 10.4],
};
const panelC = {
  canvas: { l: 0, t: 370, w: 345, h: 325 }, plot: { l: 33.3, t: 397.3, r: 282.7, b: 662.3 },
  xRange: [-13.26, 13.85], yRange: [-6.7, 171.3], fc: [-1, 1], pLine: 1.3,
  xTicks: [-10, -5, 0, 5, 10], yTicks: [0, 50, 100, 150], yTitleX: 4.2, yTickPad: 0,
  title: titleC, titleAt: [157, 390.7], titleSize: 7.8, letter: 'c', letterAt: [15, 391], letterFont: `bold 24px ${SERIF}`,
  counts: [2999, 3107], countAt: [[101, 493.7], [213.3, 493.7]],
  up: [...cUp, ...cUpMore], down: [...cDown, ...cDownMore], upPoly: cUpPolygon, downPoly: cDownPolygon, grayPoly: cGrayPolygon,
  upCol: cUpColumn, downCol: cDownColumn, grayCol: cGrayColumns,
  legendBox: [6, 6.3, 32.7, 26.7], legendAt: [10, 10],
};
const panelD = {
  canvas: { l: 372, t: 370, w: 313, h: 322 }, plot: { l: 423.7, t: 397.3, r: 670.3, b: 660 },
  xRange: [-6, 5.33], yRange: [-0.47, 12.16], fc: [-1, 1], pLine: 1.3,
  xTicks: [-6, -4, -2, 0, 2, 4], yTicks: [0, 2, 4, 6, 8, 10, 12], yTitleX: 394.3, yTickPad: 3,
  title: titleD, titleAt: [548, 390.7], titleSize: 7.85, letter: 'd', letterAt: [380, 389], letterFont: `24px ${SERIF}`,
  counts: [1107, 833], countAt: [[492.3, 497.3], [633.7, 497.3]],
  up: [...dUp, ...dUpMore], down: [...dDown, ...dDownMore], upPoly: dUpPolygon, downPoly: dDownPolygon, grayPoly: dGrayPolygon, gray: [
    ...dGray, ...dGrayMore, ...dGrayLeftColumn.map(y => [-5.55, y]), ...dGrayRightColumn.map(y => [4.92, y]),
  ],
  legendBox: [6, 6.3, 32.7, 26.7], legendAt: [10, 10],
};

export default function App() {
  const a = useRef<HTMLCanvasElement>(null);
  const b = useRef<HTMLCanvasElement>(null);
  const c = useRef<HTMLCanvasElement>(null);
  const d = useRef<HTMLCanvasElement>(null);
  const e = useRef<HTMLCanvasElement>(null);
  useEffect(() => {
    const charts = [pca(a.current!), volcano(b.current!, panelB), volcano(c.current!, panelC), volcano(d.current!, panelD), venn(e.current!)];
    return () => charts.forEach(ch => ch.destroy());
  }, []);
  const style = (l: number, t: number): React.CSSProperties => ({ position: 'absolute', left: l, top: t, display: 'block' });
  return (
    <div style={{ position: 'absolute', left: 0, top: 0, width: 685, height: 1003, overflow: 'hidden', background: '#fff' }}>
      <canvas ref={a} width={365} height={345} style={style(0, 0)} />
      <canvas ref={b} width={panelB.canvas.w} height={panelB.canvas.h} style={style(panelB.canvas.l, panelB.canvas.t)} />
      <canvas ref={c} width={panelC.canvas.w} height={panelC.canvas.h} style={style(panelC.canvas.l, panelC.canvas.t)} />
      <canvas ref={d} width={panelD.canvas.w} height={panelD.canvas.h} style={style(panelD.canvas.l, panelD.canvas.t)} />
      <canvas ref={e} width={685} height={283} style={style(0, 720)} />
    </div>
  );
}
